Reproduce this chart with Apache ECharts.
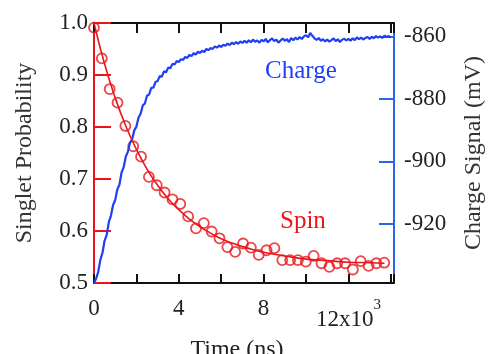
<!DOCTYPE html>
<html>
<head>
<meta charset="utf-8">
<script src="https://cdn.jsdelivr.net/npm/echarts@6/dist/echarts.min.js"></script>
<style>
  html, body { margin: 0; padding: 0; background: #fff; }
  #chart { width: 489px; height: 354px; }
</style>
</head>
<body>
<div id="chart"></div>
<script>
// spin: measured singlet probability (circles)
const spinTime = [0, 370, 740, 1110, 1480, 1850, 2220, 2590, 2960, 3330, 3700, 4070, 4440, 4810, 5180, 5550, 5920, 6290, 6660,
  7030, 7400, 7770, 8140, 8510, 8880, 9250, 9620, 9990, 10360, 10730, 11100, 11470, 11840, 12210, 12580, 12950, 13320, 13690];
const spinValue = [0.991, 0.932, 0.873, 0.847, 0.802, 0.763, 0.743, 0.704, 0.688, 0.674, 0.661, 0.652, 0.628, 0.605, 0.615, 0.599, 0.586, 0.569, 0.560,
  0.576, 0.568, 0.554, 0.563, 0.567, 0.544, 0.544, 0.544, 0.541, 0.552, 0.538, 0.531, 0.538, 0.538, 0.526, 0.542, 0.533, 0.538, 0.539];

// spin: fitted decay curve
const fitTime = [0, 500, 1000, 1500, 2000, 2500, 3000, 3500, 4000, 4500, 5000, 5500, 6000, 6500, 7000, 7500, 8000, 9000, 10000, 11000, 12000, 13000, 13700];
const fitValue = [1.0, 0.921, 0.856, 0.802, 0.757, 0.719, 0.688, 0.662, 0.641, 0.623, 0.608, 0.596, 0.585, 0.577, 0.570, 0.564, 0.559, 0.552, 0.546, 0.543, 0.540, 0.539, 0.538];

// charge signal (mV), one sample every 100 ns starting at 0
const chargeStep = 100;
const chargeValue = [
  -939.0, -937.6, -935.4, -931.6, -929.3, -925.4, -923.6, -919.5, -917.4, -914.0,
  -912.4, -909.0, -907.5, -903.6, -901.9, -898.5, -896.9, -894.0, -892.9, -890.1,
  -888.9, -886.0, -884.8, -882.1, -881.5, -879.0, -878.6, -876.5, -876.4, -874.6,
  -874.3, -872.7, -872.9, -871.2, -871.5, -870.0, -870.2, -868.8, -869.0, -867.9,
  -868.2, -867.3, -867.5, -866.6, -866.9, -865.9, -866.3, -865.4, -865.8, -864.9,
  -865.3, -864.6, -865.0, -864.0, -864.4, -863.7, -864.0, -863.2, -863.6, -862.9,
  -863.4, -862.7, -863.0, -862.3, -862.8, -862.0, -862.5, -861.8, -862.4, -861.6,
  -862.1, -861.4, -862.0, -861.2, -861.9, -861.0, -861.7, -861.3, -862.0, -861.1,
  -861.6, -860.8, -861.9, -861.2, -860.6, -861.5, -861.0, -862.0, -861.3, -860.7,
  -861.4, -860.9, -861.8, -860.5, -861.2, -860.4, -861.0, -860.2, -860.8, -860.0,
  -859.6, -860.3, -858.9, -859.8, -860.6, -861.1, -860.5, -861.4, -860.9, -861.6,
  -861.0, -861.7, -861.2, -860.6, -861.5, -860.9, -861.8, -861.1, -860.7, -861.3,
  -860.8, -861.4, -860.6, -861.2, -860.3, -860.9, -860.4, -861.0, -860.5, -860.2,
  -860.8, -860.1, -860.6, -859.9, -860.4, -860.0, -860.5, -859.8, -860.2, -859.9,
  -860.3
];

const xLabels = { 0: '0', 4000: '4', 8000: '8', 12000: '{m|12x10}{s|3}' };
const leftTicks = [0.5, 0.6, 0.7, 0.8, 0.9, 1.0];
const rightTicks = [-920, -900, -880, -860];

const RED = '#e8161b';
const BLUE = '#1f3ff2';
const AXIS_BLUE = '#2a66e8';
const FONT = 'Liberation Serif';
const TICK_SIZE = 23;
const NAME_SIZE = 24;

const chart = echarts.init(document.getElementById('chart'), null, { renderer: 'canvas' });

chart.setOption({
  animation: false,
  backgroundColor: '#fff',
  textStyle: { fontFamily: FONT },
  grid: { left: 94, right: 95, top: 23, bottom: 71, outerBoundsMode: 'none' },
  xAxis: [
    {
      type: 'value', min: 0, max: 14150, interval: 2000,
      name: 'Time (ns)', nameLocation: 'middle', nameGap: 55, nameMoveOverlap: false,
      nameTextStyle: { fontFamily: FONT, fontSize: NAME_SIZE, color: '#222', padding: [0, 14, 0, 0] },
      axisLine: { onZero: false, lineStyle: { color: '#111', width: 2 } },
      axisTick: { inside: true, length: 9, lineStyle: { color: '#111', width: 2 } },
      splitLine: { show: false },
      axisLabel: {
        margin: 15, fontFamily: FONT, fontSize: TICK_SIZE, color: '#222', lineHeight: 22,
        formatter: v => xLabels[v] || '',
        rich: {
          m: { fontFamily: FONT, fontSize: TICK_SIZE, color: '#222', lineHeight: 44 },
          s: { fontFamily: FONT, fontSize: 15, color: '#222', lineHeight: 6, verticalAlign: 'top' }
        }
      }
    },
    {
      type: 'value', position: 'top', min: 0, max: 14150, interval: 2000,
      axisLine: { onZero: false, lineStyle: { color: '#111', width: 2 } },
      axisTick: { inside: true, length: 10, lineStyle: { color: '#111', width: 2 } },
      axisLabel: { show: false },
      splitLine: { show: false }
    }
  ],
  yAxis: [
    {
      type: 'value', min: 0.5, max: 1.0,
      name: 'Singlet Probability', nameLocation: 'middle', nameGap: 57, nameMoveOverlap: false,
      nameTextStyle: { fontFamily: FONT, fontSize: NAME_SIZE, color: '#333' },
      axisLine: { show: true, onZero: false, lineStyle: { color: RED, width: 2 } },
      axisTick: { inside: true, length: 17, customValues: leftTicks, lineStyle: { color: RED, width: 2 } },
      splitLine: { show: false },
      axisLabel: {
        margin: 6, fontFamily: FONT, fontSize: TICK_SIZE, color: '#222',
        customValues: leftTicks, formatter: v => v.toFixed(1)
      }
    },
    {
      type: 'value', position: 'right', min: -939, max: -855.7,
      name: 'Charge Signal (mV)', nameLocation: 'middle', nameGap: 68, nameMoveOverlap: false,
      nameTextStyle: { fontFamily: FONT, fontSize: NAME_SIZE, color: '#333' },
      axisLine: { show: true, onZero: false, lineStyle: { color: AXIS_BLUE, width: 2 } },
      axisTick: { inside: true, length: 15, customValues: rightTicks, lineStyle: { color: AXIS_BLUE, width: 2 } },
      splitLine: { show: false },
      axisLabel: {
        margin: 10, fontFamily: FONT, fontSize: TICK_SIZE, color: '#222',
        customValues: rightTicks, formatter: v => String(v)
      }
    }
  ],
  graphic: [
    { type: 'text', left: 265, top: 59, style: { text: 'Charge', fontFamily: FONT, fontSize: 25, fill: BLUE } },
    { type: 'text', left: 280, top: 209, style: { text: 'Spin', fontFamily: FONT, fontSize: 25, fill: RED } }
  ],
  series: [
    {
      name: 'Charge', type: 'line', xAxisIndex: 0, yAxisIndex: 1,
      data: chargeValue.map((v, i) => [i * chargeStep, v]),
      showSymbol: false, symbol: 'none',
      lineStyle: { color: BLUE, width: 2.2 }
    },
    {
      name: 'Spin fit', type: 'line', xAxisIndex: 0, yAxisIndex: 0,
      data: fitTime.map((t, i) => [t, fitValue[i]]),
      smooth: true, showSymbol: false, symbol: 'none',
      lineStyle: { color: RED, width: 1.6 }
    },
    {
      name: 'Spin', type: 'scatter', xAxisIndex: 0, yAxisIndex: 0,
      data: spinTime.map((t, i) => [t, spinValue[i]]),
      symbol: 'circle', symbolSize: 10,
      itemStyle: { color: 'rgba(0,0,0,0)', borderColor: RED, borderWidth: 1.8 }
    }
  ]
});
</script>
</body>
</html>
